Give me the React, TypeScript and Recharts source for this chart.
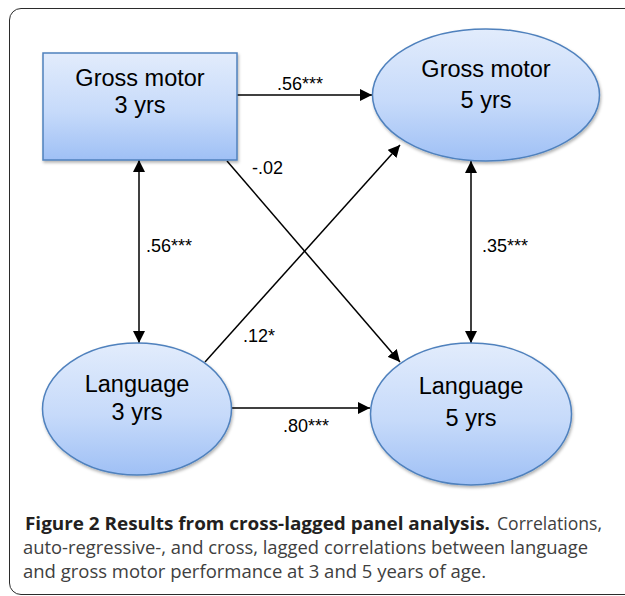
import { ComposedChart, XAxis, YAxis, Scatter, Line } from 'recharts';

// diagram units = pixels of the 625x596 figure
const nodeIds = ['gm3', 'gm5', 'lang3', 'lang5'];
const nodeNames = ['Gross motor', 'Gross motor', 'Language', 'Language'];
const nodeAges = ['3 yrs', '5 yrs', '3 yrs', '5 yrs'];
const nodeX = [140, 486, 137, 471];
const nodeY = [106.5, 95, 409, 414];

const edgeFromX = [237, 227, 205, 139, 471, 232];
const edgeFromY = [95, 161, 362, 160, 161, 408];
const edgeToX = [372, 400, 400, 139, 471, 370];
const edgeToY = [95, 362, 145, 343, 343, 408];
const edgeBoth = [false, false, false, true, true, false];

const coefLabels = ['.56***', '-.02', '.12*', '.56***', '.35***', '.80***'];
const coefX = [277, 252, 243, 146, 482, 283];
const coefY = [90, 174, 342, 252, 252, 432];

const captionBold = 'Figure 2 Results from cross-lagged panel analysis.';
const captionLines = [
    'Correlations,',
    'auto-regressive-, and cross, lagged correlations between language',
    'and gross motor performance at 3 and 5 years of age.',
];

const nodeStyle: Record<string, { kind: string; w: number; h: number; t1: number; t2: number }> = {
    gm3: { kind: 'box', w: 194, h: 107, t1: -21, t2: 6 },
    gm5: { kind: 'ellipse', w: 227, h: 132, t1: -18, t2: 13 },
    lang3: { kind: 'ellipse', w: 189, h: 132, t1: -17, t2: 11 },
    lang5: { kind: 'ellipse', w: 201, h: 142, t1: -20, t2: 12 },
};

const nodes = nodeIds.map((id, i) => ({
    id,
    x: nodeX[i],
    y: nodeY[i],
    name: nodeNames[i],
    age: nodeAges[i],
}));
const edges = edgeFromX.map((_, i) => ({
    both: edgeBoth[i],
    data: [
        { x: edgeFromX[i], y: edgeFromY[i] },
        { x: edgeToX[i], y: edgeToY[i] },
    ],
}));
const coefs = coefLabels.map((text, i) => ({ x: coefX[i], y: coefY[i], text }));

const FONT = '"Liberation Sans", Arial, Helvetica, sans-serif';

const NodeShape = (props: any) => {
    const { cx, cy, payload } = props;
    const s = nodeStyle[payload.id];
    const shape =
        s.kind === 'box' ? (
            <rect
                x={cx - s.w / 2}
                y={cy - s.h / 2}
                width={s.w}
                height={s.h}
                fill='url(#nodeFill)'
                stroke='#4f81bd'
                strokeWidth={1.5}
                filter='url(#shadow)'
            />
        ) : (
            <ellipse
                cx={cx}
                cy={cy}
                rx={s.w / 2}
                ry={s.h / 2}
                fill='url(#nodeFill)'
                stroke='#4f81bd'
                strokeWidth={1.5}
                filter='url(#shadow)'
            />
        );
    return (
        <g>
            {shape}
            <text x={cx} y={cy + s.t1} textAnchor='middle' fontFamily={FONT} fontSize={23.5} fill='#000'>
                {payload.name}
            </text>
            <text x={cx} y={cy + s.t2} textAnchor='middle' fontFamily={FONT} fontSize={23.5} fill='#000'>
                {payload.age}
            </text>
        </g>
    );
};

const CoefShape = (props: any) => {
    const { cx, cy, payload } = props;
    return (
        <text x={cx} y={cy} fontFamily={FONT} fontSize={18} fill='#000'>
            {payload.text}
        </text>
    );
};

export default function App() {
    return (
        <div
            style={{
                position: 'absolute',
                left: 0,
                top: 0,
                width: 625,
                height: 596,
                overflow: 'hidden',
                background: '#fff',
            }}
        >
            <svg width={0} height={0} style={{ position: 'absolute' }}>
                <defs>
                    <linearGradient id='nodeFill' x1='0' y1='0' x2='0' y2='1'>
                        <stop offset='0%' stopColor='#e2ecfc' />
                        <stop offset='55%' stopColor='#c6dafa' />
                        <stop offset='100%' stopColor='#9fc0f5' />
                    </linearGradient>
                    <filter id='shadow' x='-10%' y='-10%' width='130%' height='130%'>
                        <feDropShadow dx='1' dy='2' stdDeviation='1.5' floodColor='#000' floodOpacity='0.3' />
                    </filter>
                    <marker
                        id='arrow'
                        viewBox='0 0 12 12'
                        refX='12'
                        refY='6'
                        markerWidth='12'
                        markerHeight='12'
                        markerUnits='userSpaceOnUse'
                        orient='auto-start-reverse'
                    >
                        <path d='M0,0 L12,6 L0,12 z' fill='#000' />
                    </marker>
                </defs>
            </svg>
            <div
                style={{
                    position: 'absolute',
                    left: 9,
                    top: 8,
                    width: 660,
                    height: 587,
                    boxSizing: 'border-box',
                    border: '1.5px solid #2b2b2b',
                    borderRadius: 12,
                }}
            />
            <div style={{ position: 'absolute', left: 0, top: 0 }}>
                <ComposedChart width={625} height={596} margin={{ top: 0, right: 0, bottom: 0, left: 0 }}>
                    <XAxis type='number' dataKey='x' domain={[0, 625]} hide />
                    <YAxis type='number' dataKey='y' domain={[0, 596]} reversed hide />
                    {edges.map((e, i) => (
                        <Line
                            key={i}
                            data={e.data}
                            dataKey='y'
                            type='linear'
                            stroke='#000'
                            strokeWidth={1.5}
                            dot={false}
                            activeDot={false}
                            markerEnd='url(#arrow)'
                            markerStart={e.both ? 'url(#arrow)' : undefined}
                            isAnimationActive={false}
                        />
                    ))}
                    <Scatter data={nodes} dataKey='y' shape={NodeShape} isAnimationActive={false} />
                    <Scatter data={coefs} dataKey='y' shape={CoefShape} isAnimationActive={false} />
                </ComposedChart>
            </div>
            <svg
                width={625}
                height={96}
                style={{ position: 'absolute', left: 0, top: 500 }}
                fontFamily='"Open Sans", sans-serif'
                fontSize={18}
            >
                <text y={30}>
                    <tspan x={25} fontWeight='bold' fill='#231f20' textLength={465} lengthAdjust='spacingAndGlyphs'>
                        {captionBold}
                    </tspan>
                    <tspan x={497} fill='#404040' textLength={105} lengthAdjust='spacingAndGlyphs'>
                        {captionLines[0]}
                    </tspan>
                </text>
                <text x={23} y={54} fill='#404040' textLength={565} lengthAdjust='spacingAndGlyphs'>
                    {captionLines[1]}
                </text>
                <text x={23} y={78} fill='#404040' textLength={463} lengthAdjust='spacingAndGlyphs'>
                    {captionLines[2]}
                </text>
            </svg>
        </div>
    );
}
